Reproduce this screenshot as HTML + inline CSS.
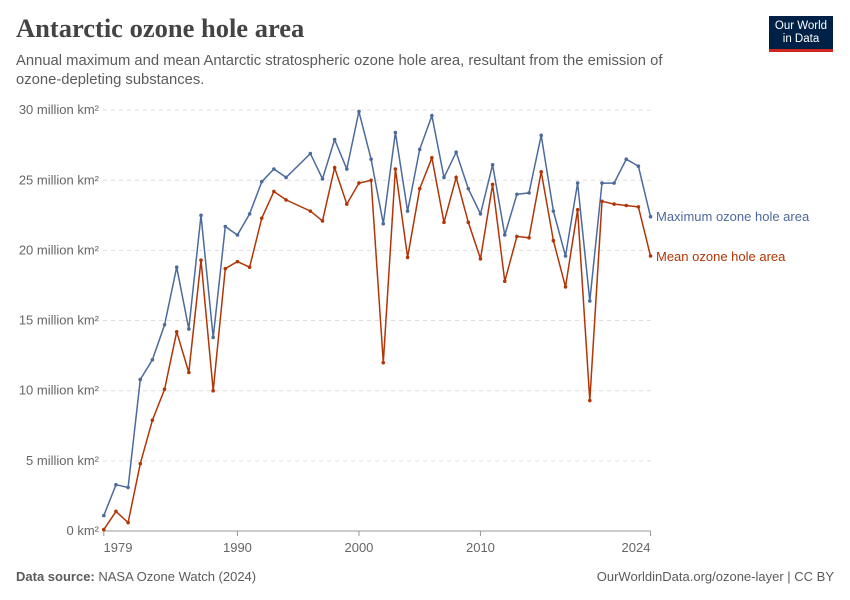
<!DOCTYPE html>
<html><head><meta charset="utf-8"><style>
body{margin:0;width:850px;height:600px;background:#fff;font-family:"Liberation Sans",sans-serif;position:relative;overflow:hidden}
.t{position:absolute;left:16px;top:13px;font-family:"Liberation Serif",serif;font-size:26.5px;font-weight:bold;color:#444}
.s{position:absolute;left:16px;top:52px;width:680px;font-size:14.8px;line-height:19px;color:#5b5b5b}
.logo{position:absolute;left:769px;top:16px;width:64px;height:36px;background:#002147;color:#fff;font-size:11.5px;line-height:13px;text-align:center;padding-top:4px;box-sizing:border-box;border-bottom:3px solid #ce261e}
.f{position:absolute;top:569px;font-size:13px;color:#5b5b5b}
</style></head><body>
<div class="t">Antarctic ozone hole area</div>
<div class="s">Annual maximum and mean Antarctic stratospheric ozone hole area, resultant from the emission of ozone-depleting substances.</div>
<div class="logo">Our World<br>in Data</div>
<div class="f" style="left:16px"><b>Data source:</b> NASA Ozone Watch (2024)</div>
<div class="f" style="right:16px">OurWorldinData.org/ozone-layer | CC BY</div>
<svg id="c" width="850" height="600" style="position:absolute;left:0;top:0" font-family="Liberation Sans, sans-serif"></svg>
<script>
var yrs=[1979,1980,1981,1982,1983,1984,1985,1986,1987,1988,1989,1990,1991,1992,1993,1994,1996,1997,1998,1999,2000,2001,2002,2003,2004,2005,2006,2007,2008,2009,2010,2011,2012,2013,2014,2015,2016,2017,2018,2019,2020,2021,2022,2023,2024];
var mx=[1.1,3.3,3.1,10.8,12.2,14.7,18.8,14.4,22.5,13.8,21.7,21.1,22.6,24.9,25.8,25.2,26.9,25.1,27.9,25.8,29.9,26.5,21.9,28.4,22.8,27.2,29.6,25.2,27.0,24.4,22.6,26.1,21.1,24.0,24.1,28.2,22.8,19.6,24.8,16.4,24.8,24.8,26.5,26.0,22.4];
var mn=[0.1,1.4,0.6,4.8,7.9,10.1,14.2,11.3,19.3,10.0,18.7,19.2,18.8,22.3,24.2,23.6,22.8,22.1,25.9,23.3,24.8,25.0,12.0,25.8,19.5,24.4,26.6,22.0,25.2,22.0,19.4,24.7,17.8,21.0,20.9,25.6,20.7,17.4,22.9,9.3,23.5,23.3,23.2,23.1,19.6];
function X(y){return 103.8+(y-1979)*12.15}function Y(v){return 531-v*14.03}
var h='';
for(var i=0;i<=6;i++){var y=Y(i*5);
h+='<line x1="103" x2="651" y1="'+y+'" y2="'+y+'" stroke="#ddd" stroke-dasharray="'+(i?'4,4':'0')+'" '+(i?'':'stroke="#999"')+'/>';
h+='<text x="99" y="'+(y+4)+'" text-anchor="end" font-size="13" fill="#666">'+(i?i*5+' million km²':'0 km²')+'</text>';}
h+='<line x1="103" x2="651" y1="531" y2="531" stroke="#999"/>';
[[1979,118],[1990,X(1990)],[2000,X(2000)],[2010,X(2010)],[2024,636]].forEach(function(a){h+='<text x="'+a[1]+'" y="552" text-anchor="middle" font-size="13" fill="#666">'+a[0]+'</text>';h+='<line x1="'+X(a[0])+'" x2="'+X(a[0])+'" y1="531" y2="536" stroke="#999"/>';});
function ser(d,c){var p=d.map(function(v,i){return X(yrs[i]).toFixed(1)+','+Y(v).toFixed(1)}).join(' ');
h+='<polyline points="'+p+'" fill="none" stroke="'+c+'" stroke-width="1.5"/>';
d.forEach(function(v,i){h+='<circle cx="'+X(yrs[i])+'" cy="'+Y(v)+'" r="1.8" fill="'+c+'"/>'});}
ser(mx,'#4c6a9c');ser(mn,'#b13507');
h+='<text x="656" y="221" font-size="13" fill="#4c6a9c">Maximum ozone hole area</text>';
h+='<text x="656" y="261" font-size="13" fill="#b13507">Mean ozone hole area</text>';
document.getElementById('c').innerHTML=h;
</script>
</body></html>
